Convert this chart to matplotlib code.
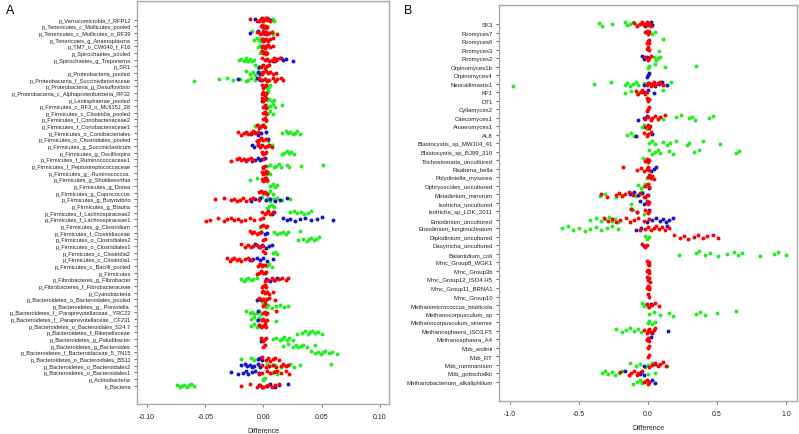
import matplotlib
matplotlib.use("Agg")
import matplotlib.pyplot as plt

plt.rcParams["font.family"] = ["Liberation Sans", "DejaVu Sans"]

# ---------------- Panel A data ----------------
A_labels = [
    "p_Verrucomicrobia_f_RFP12", "p_Tenericutes_c_Mollicutes_pooled", "p_Tenericutes_c_Mollicutes_o_RF39",
    "p_Tenericutes_g_Anaeroplasma", "p_TM7_o_CW040_f_F16", "p_Spirochaetes_pooled", "p_Spirochaetes_g_Treponema",
    "p_SR1", "p_Proteobacteria_pooled", "p_Proteobacteria_f_Succinivibrionaceae", "p_Proteobacteria_g_Desulfovibrio",
    "p_Proteobacteria_c_Alphaproteobacteria_RF32", "p_Lentisphaerae_pooled", "p_Firmicutes_c_RF3_o_ML615J_28",
    "p_Firmicutes_c_Clostridia_pooled", "p_Firmicutes_f_Coriobacteriaceae2", "p_Firmicutes_f_Coriobacteriaceae1",
    "p_Firmicutes_o_Coriobacteriales", "p_Firmicutes_o_Clostridiales_pooled", "p_Firmicutes_g_Succiniclasticum",
    "p_Firmicutes_g_Oscillospira", "p_Firmicutes_f_Ruminococcaceae1", "p_Firmicutes_f_Peptostreptococcaceae",
    "p_Firmicutes_g_.Ruminococcus.", "p_Firmicutes_g_Shuttleworthia", "p_Firmicutes_g_Dorea",
    "p_Firmicutes_g_Coprococcus", "p_Firmicutes_g_Butyrivibrio", "p_Firmicutes_g_Blautia",
    "p_Firmicutes_f_Lachnospiraceae2", "p_Firmicutes_f_Lachnospiraceae1", "p_Firmicutes_g_Clostridium",
    "p_Firmicutes_f_Clostridiaceae", "p_Firmicutes_o_Clostridiales2", "p_Firmicutes_o_Clostridiales1",
    "p_Firmicutes_c_Clostridia2", "p_Firmicutes_c_Clostridia1", "p_Firmicutes_c_Bacilli_pooled",
    "p_Firmicutes", "p_Fibrobacteres_g_Fibrobacter", "p_Fibrobacteres_f_Fibrobacteraceae", "p_Cyanobacteria",
    "p_Bacteroidetes_o_Bacteroidales_pooled", "p_Bacteroidetes_g_.Prevotella.",
    "p_Bacteroidetes_f_.Paraprevotellaceae._YRC22", "p_Bacteroidetes_f_.Paraprevotellaceae._CF231",
    "p_Bacteroidetes_o_Bacteroidales_S24.7", "p_Bacteroidetes_f_Rikenellaceae", "p_Bacteroidetes_g_Paludibacter",
    "p_Bacteroidetes_g_Bacteroides", "p_Bacteroidetes_f_Bacteroidaceae_5_7N15", "p_Bacteroidetes_o_Bacteroidales_BS11",
    "p_Bacteroidetes_o_Bacteroidales2", "p_Bacteroidetes_o_Bacteroidales1", "p_Actinobacteria", "k_Bacteria",
]

A_red = [
    [-0.012, -0.006, -0.003, -0.001, 0, 0.001, 0.002, 0.003, 0.004, 0.006],
    [-0.002, -0.001, 0, 0.001, 0.002, 0.003],
    [-0.006, -0.003, -0.001, 0, 0.001, 0.002, 0.003, 0.005, 0.007, 0.012],
    [-0.001, 0, 0.001, 0.002, 0.004, 0.006, 0.008],
    [-0.001, 0, 0.001, 0.002, 0.004, 0.006, 0.008],
    [-0.001, 0, 0.001, 0.002, 0.003],
    [-0.001, 0.001, 0.003, 0.005, 0.007, 0.009, 0.010, 0.012, 0.014],
    [-0.002, 0, 0.001, 0.003, 0.005],
    [-0.001, 0, 0.002, 0.004, 0.006, 0.008, 0.011],
    [-0.004, -0.001, 0.001, 0.003, 0.005, 0.008, 0.010, 0.012, 0.015, 0.017],
    [-0.001, 0, 0.001, 0.002],
    [-0.001, 0, 0.001, 0.002],
    [-0.001, 0, 0.001, 0.002],
    [0, 0.001, 0.002],
    [0, 0.001, 0.002],
    [0, 0.001, 0.002],
    [-0.006, -0.004, -0.002, 0, 0.001],
    [-0.022, -0.019, -0.017, -0.015, -0.013, -0.011, -0.009, -0.007, -0.005],
    [-0.006, -0.004, -0.002, 0, 0.002],
    [-0.005, -0.003, -0.001, 0.001, 0.003, 0.005, 0.007],
    [-0.001, 0, 0.001, 0.002],
    [-0.028, -0.023, -0.021, -0.019, -0.017, -0.015, -0.013, -0.011, -0.009, 0],
    [0, 0.001],
    [-0.001, 0, 0.001, 0.002, 0.003],
    [-0.001, 0, 0.001, 0.002, 0.003],
    [],
    [-0.004, -0.002, 0, 0.001, 0.003],
    [-0.042, -0.034, -0.028, -0.025, -0.023, -0.020, -0.018, -0.015, -0.012, -0.009, -0.004],
    [],
    [-0.001, 0.001, 0.002, 0.004, 0.006, 0.008],
    [-0.049, -0.046, -0.039, -0.034, -0.031, -0.028, -0.025, -0.022, -0.019, -0.016, -0.012, -0.008, -0.003, 0],
    [-0.002, 0, 0.002, 0.003],
    [-0.012, -0.010, -0.008, -0.006, -0.004, -0.002],
    [0, 0.001],
    [-0.019, -0.016, -0.013, -0.011, -0.009, -0.006, -0.003, 0],
    [0, 0.001],
    [-0.031, -0.029, -0.027, -0.025, -0.023, -0.021, -0.019, -0.016, -0.013, -0.010],
    [-0.005, -0.003, -0.001, 0.001],
    [-0.006, -0.004, -0.002, 0, 0.002],
    [0.001, 0.004, 0.007, 0.010, 0.013, 0.016, 0.019, 0.021],
    [-0.001, 0, 0.001, 0.002],
    [-0.001, 0, 0.001, 0.003, 0.005, 0.008],
    [-0.004, -0.002, 0, 0.001, 0.003, 0.005, 0.010],
    [0, 0.001],
    [0, 0.001, 0.002, 0.003, 0.011],
    [-0.001, 0, 0.001, 0.003],
    [-0.004, -0.002, 0, 0.001, 0.002],
    [],
    [-0.002, 0, 0.001, 0.002],
    [0, 0.001],
    [],
    [-0.001, 0.002, 0.004, 0.006, 0.008, 0.010, 0.013],
    [-0.001, 0.002, 0.005, 0.008, 0.011, 0.015, 0.017, 0.019, 0.021],
    [-0.004, -0.001, 0.003, 0.006, 0.009, 0.012, 0.015, 0.019, 0.022],
    [],
    [-0.019, -0.012, -0.006, -0.003, 0, 0.002, 0.004, 0.007, 0.010, 0.013],
]

A_green = [
    [0.008, 0.009, 0.006, -0.002],
    [0.001, 0.003],
    [-0.010, 0.005, 0.007, 0.008],
    [-0.008, -0.006, -0.004, -0.003, -0.002],
    [-0.005, -0.003, -0.001],
    [-0.003, -0.002],
    [-0.021, -0.019, -0.017, -0.016, -0.015, -0.013, -0.012, -0.010, -0.008],
    [-0.007, -0.005, -0.002],
    [-0.015, -0.012, -0.009, -0.007, -0.005, -0.003],
    [-0.060, -0.038, -0.031, -0.026, -0.020, -0.015, -0.013, -0.011, -0.007, -0.004],
    [0.003, 0.005, 0.006],
    [0.001, 0.003, 0.004],
    [0.003, 0.005, 0.007, 0.009],
    [0.002, 0.004, 0.006, 0.008, 0.010, 0.016],
    [0.002, 0.004, 0.006, 0.008],
    [0.001, 0.002],
    [-0.007, -0.005, -0.003],
    [0.016, 0.019, 0.021, 0.023, 0.025, 0.027, 0.029, 0.031],
    [0.002, 0.004],
    [0.005, 0.007],
    [0.016, 0.018, 0.020, 0.022, 0.024, 0.026],
    [],
    [0.003, 0.006, 0.009, 0.011, 0.013, 0.015, 0.020, 0.022, 0.032, 0.051],
    [0.002, 0.004, 0.006],
    [-0.012, -0.006, 0.003],
    [0.006, 0.008, 0.010, 0.012],
    [0.002, 0.004, 0.006, 0.008],
    [-0.004, -0.001, 0.002, 0.004, 0.006, 0.009, 0.012, 0.016, 0.023],
    [0.003, 0.005, 0.007, 0.009],
    [0.023, 0.026, 0.029, 0.032, 0.035, 0.038, 0.041],
    [],
    [-0.003],
    [0.009, 0.012, 0.014, 0.017, 0.019, 0.021, 0.031],
    [0.030, 0.034, 0.037, 0.039, 0.041, 0.043, 0.045, 0.048],
    [],
    [0.008, 0.010, 0.012],
    [],
    [0.003, 0.005, 0.007],
    [],
    [-0.019, -0.017, -0.015, -0.013, -0.011, -0.009, -0.006],
    [0.001],
    [0.002],
    [-0.001, 0.001],
    [0, 0.002, 0.004, 0.007, 0.011, 0.014, 0.018, 0.021],
    [-0.015, -0.012, -0.010, -0.008, -0.006, -0.004, -0.002],
    [-0.011, -0.008, -0.006, -0.004, 0.011],
    [-0.011, -0.008, -0.006, -0.003],
    [0.029, 0.033, 0.036, 0.038, 0.040, 0.042, 0.044, 0.047, 0.050],
    [0.008, 0.011, 0.014, 0.016, 0.018, 0.020, 0.022, 0.025],
    [0.017, 0.021, 0.025, 0.028, 0.030, 0.032, 0.034, 0.037, 0.044],
    [0.041, 0.044, 0.047, 0.049, 0.051, 0.053, 0.056, 0.059, 0.063],
    [-0.019, -0.011, -0.008, -0.005],
    [0.003, 0.006, 0.010, 0.015, 0.019, 0.023, 0.026, 0.031, 0.058],
    [0.007, 0.010, 0.012],
    [0, 0.001, 0],
    [-0.074, -0.072, -0.070, -0.068, -0.066, -0.064, -0.062, -0.060],
]

A_blue = [
    [-0.007, -0.004, 0.006, 0.003],
    [0],
    [-0.012, -0.005, 0.0],
    [0.0],
    [],
    [],
    [0.008, 0.011, 0.015, 0.017, 0.019, 0.025],
    [-0.004],
    [-0.005, -0.003],
    [-0.022, -0.006, -0.003, 0.001],
    [],
    [],
    [-0.001],
    [],
    [],
    [],
    [-0.001, 0],
    [-0.011, -0.008, -0.005, -0.002, 0.002],
    [-0.006, 0.004],
    [-0.010, -0.008, -0.005],
    [],
    [-0.010, -0.007, -0.005, -0.003, -0.001, 0.001],
    [0],
    [],
    [0.001],
    [],
    [],
    [-0.011, -0.007, -0.003, 0.002, 0.006, 0.010, 0.014, 0.020],
    [],
    [0.007, 0.009],
    [0.017, 0.020, 0.023, 0.027, 0.031, 0.036, 0.041, 0.046, 0.050, 0.060],
    [],
    [-0.002, 0.001, 0.003],
    [],
    [-0.007, -0.004, -0.001, 0.002, 0.005, 0.007],
    [],
    [-0.012, -0.009, -0.006, -0.003, 0, 0.003, 0.008],
    [0],
    [0.001],
    [0.002, 0.006, 0.009, 0.012],
    [],
    [],
    [-0.006, -0.003],
    [],
    [-0.005],
    [-0.005],
    [-0.004],
    [],
    [-0.002],
    [],
    [],
    [-0.005, -0.003, -0.001],
    [-0.019, -0.016, -0.014, -0.012, -0.010, -0.008, -0.005, -0.003],
    [-0.028, -0.022, -0.018, -0.015, -0.013, -0.010, -0.007, -0.004],
    [],
    [-0.004, -0.001, 0.003, 0.006, 0.010, 0.013, 0.021],
]

A_xticks = [-0.10, -0.05, 0.00, 0.05, 0.10]

# ---------------- Panel B data ----------------
B_labels = [
    "SK3", "Piromyces7", "Piromyces6", "Piromyces3", "Piromyces2", "Orpinomyces1b", "Orpinomyces4",
    "Neocallimastix1", "KF1", "DT1", "Cyllamyces2", "Caecomyces1", "Anaeromyces1", "AL8",
    "Blastocystis_sp_MWJ04_41", "Blastocystis_sp_BJ99_319", "Trichostomatia_uncultured", "Raabena_bella",
    "Polydiniella_mysorea", "Ophryoscolex_uncultured", "Metadinium_minorum", "Isotricha_uncultured",
    "Isotricha_sp_LDK_2011", "Entodinium_uncultured", "Entodinium_longinucleatum", "Diplodinium_uncultured",
    "Dasytricha_uncultured", "Balantidium_coli", "Mmc_Group8_WGK1", "Mmc_Group3b", "Mmc_Group12_ISO4.H5",
    "Mmc_Group11_BRNA1", "Mmc_Group10", "Methanimicrococcus_blatticola", "Methanocorpusculum_sp",
    "Methanocorpusculum_sinense", "Methanosphaera_ISO3.F5", "Methanosphaera_A4", "Mbb_wolinii", "Mbb_RT",
    "Mbb_ruminantium", "Mbb_gottschalkii", "Methanobacterium_alkaliphilium",
]

B_red = [
    [-0.10, -0.08, -0.06, -0.04, -0.03, -0.02, -0.01, 0.0, 0.01, 0.02],
    [-0.02, -0.01, 0, 0.01],
    [-0.005, 0, 0.005, 0.01],
    [-0.005, 0, 0.005],
    [-0.02, 0, 0.01, 0.02],
    [],
    [],
    [-0.01, 0.01, 0.02, 0.03, 0.04, 0.05, 0.07, 0.09, 0.11],
    [-0.09, -0.07, -0.05, -0.04, -0.02, -0.01],
    [-0.005, 0, 0.005],
    [-0.005, 0, 0.005],
    [-0.02, 0.0, 0.02, 0.03, 0.05, 0.07, 0.09, 0.12],
    [-0.02, 0, 0.01, 0.015],
    [-0.03, -0.01, 0, 0.02],
    [],
    [],
    [-0.02, -0.01, 0, 0.005],
    [-0.18, -0.08, -0.05, -0.03, -0.01, 0, 0.01],
    [0, 0.01, 0.02, 0.03, 0.045],
    [-0.02, 0, 0.01],
    [-0.34, -0.30, -0.23, -0.21, -0.19, -0.17, -0.14, -0.11, -0.06, -0.03, -0.01],
    [-0.01, 0, 0.01],
    [-0.12, -0.08, -0.02, 0, 0.01],
    [-0.32, -0.29, -0.26, -0.23, -0.20, -0.16, -0.13, -0.10, -0.07, -0.03, 0.01],
    [-0.06, -0.02, 0.0, 0.02, 0.04, 0.06, 0.08, 0.10, 0.12, 0.15],
    [0.185, 0.23, 0.26, 0.29, 0.33, 0.36, 0.40, 0.43, 0.47, 0.51],
    [-0.04, -0.02, -0.005],
    [],
    [-0.005, 0, 0.005, 0.01],
    [-0.005, 0, 0.005, 0.01],
    [-0.005, 0, 0.01, 0.015],
    [-0.005, 0, 0.005, 0.01],
    [0, 0.005],
    [-0.005, 0.01, 0.03, 0.05, 0.08],
    [],
    [],
    [-0.03, -0.01, 0.0, 0.01, 0.02, 0.04, 0.05],
    [-0.005, 0, 0.005],
    [0, 0.005],
    [0, 0.005],
    [0.01, 0.03, 0.05, 0.07, 0.09, 0.11, 0.13],
    [-0.20, -0.14, -0.12, -0.10, -0.08, -0.07, -0.04],
    [-0.03, -0.01, 0, 0.01],
]

B_green = [
    [-0.355, -0.33, -0.26, -0.17, -0.15, -0.13, -0.11, -0.08],
    [0.01, 0.03, 0.05],
    [0.11],
    [0.08],
    [0.04, 0.06, 0.07, 0.09],
    [0, 0.01, 0.05, 0.12, 0.35],
    [],
    [-0.976, -0.39, -0.27, -0.17, -0.15, -0.13, -0.11, -0.09, -0.07, -0.03, 0.17],
    [-0.17, -0.12, -0.08, -0.06, 0.11],
    [],
    [],
    [0.11, 0.20, 0.24, 0.30, 0.32, 0.34, 0.44, 0.47],
    [-0.04, -0.03, -0.01],
    [-0.155, -0.12, -0.10],
    [0.01, 0.03, 0.05, 0.11, 0.14, 0.16, 0.20, 0.28, 0.30, 0.40, 0.52],
    [0.01, 0.03, 0.05, 0.07, 0.09, 0.15, 0.18, 0.33, 0.37, 0.64, 0.66],
    [-0.035],
    [],
    [-0.005],
    [-0.07, -0.05, -0.03, -0.02],
    [-0.35, -0.31, -0.23, -0.19, -0.12, -0.09, -0.06, -0.04],
    [-0.12],
    [-0.11, -0.03],
    [-0.42, -0.38, -0.34, -0.31, -0.28, -0.26, -0.24, -0.22],
    [-0.62, -0.58, -0.54, -0.50, -0.46, -0.42, -0.38, -0.34, -0.30, -0.26, -0.22],
    [-0.02, -0.005, 0.01],
    [-0.04],
    [0.225, 0.35, 0.37, 0.41, 0.45, 0.51, 0.57, 0.62, 0.65, 0.68, 0.81, 0.91, 0.94, 1.0],
    [],
    [],
    [0],
    [],
    [],
    [-0.045, -0.03, -0.015, 0],
    [0.01, 0.04, 0.09, 0.15, 0.18, 0.35, 0.38, 0.41, 0.50, 0.64],
    [0, 0.01, 0.03, 0.05],
    [-0.23, -0.19, -0.16, -0.13, -0.10, -0.07, -0.05],
    [-0.01],
    [],
    [],
    [-0.13, -0.09, -0.06, -0.02, 0.0, 0.03, 0.135],
    [-0.33, -0.31, -0.29, -0.26, -0.24, -0.21, -0.19, 0.0, 0.05],
    [-0.11, -0.08, -0.06, -0.04, -0.02],
]

B_blue = [
    [-0.04, -0.02, 0.0, 0.02, 0.03],
    [-0.01],
    [],
    [],
    [-0.04, -0.03, -0.01],
    [],
    [-0.005, 0, 0.005],
    [-0.03, 0.0, 0.05, 0.08, 0.10, 0.135],
    [-0.03, 0.0, 0.04],
    [0],
    [],
    [-0.075, -0.03, -0.01],
    [],
    [-0.09, 0.03],
    [],
    [],
    [],
    [0.02, 0.04, 0.055],
    [],
    [0.005],
    [-0.13, -0.10, -0.07, -0.04, -0.02, 0.0],
    [-0.06, -0.03, -0.01],
    [-0.12, -0.08, 0.01],
    [-0.01, 0.03, 0.06, 0.09, 0.11, 0.13, 0.15, 0.18],
    [-0.09, -0.05, 0.135],
    [],
    [-0.03],
    [],
    [],
    [],
    [],
    [],
    [],
    [0.02],
    [],
    [],
    [0.03, 0.147],
    [0.02],
    [],
    [],
    [-0.03, 0.05],
    [-0.17, -0.06, -0.05, -0.03],
    [0.01, 0.03, 0.05],
]

B_xticks = [-1.0, -0.5, 0.0, 0.5, 1.0]

# ---------------- drawing ----------------
RED = "#ff0000"
GREEN = "#22ee22"
BLUE = "#1414c8"
SPINE = "#a8a8a8"


def jitter(k, width):
    return (((k * 0.6180339887) + 0.31) % 1.0 - 0.5) * 2 * width


def strip(ax, series, color, width, size):
    xs, ys = [], []
    k = 0
    for i, vals in enumerate(series):
        for v in vals:
            xs.append(v)
            ys.append(i + jitter(k, width))
            k += 1
    ax.scatter(xs, ys, s=size, c=color, linewidths=0, zorder=3)


def style(ax, labels, xticks, xlim, ylab_size, fmt):
    ax.set_yticks(range(len(labels)))
    ax.set_yticklabels(labels, fontsize=ylab_size)
    ax.set_xticks(xticks)
    ax.set_xticklabels([fmt.format(t) for t in xticks], fontsize=5)
    ax.set_xlim(*xlim)
    for sp in ax.spines.values():
        sp.set_color(SPINE)
        sp.set_linewidth(1.0)
    ax.tick_params(axis="both", colors="#555555", length=2.5, width=0.6, pad=2)
    ax.tick_params(axis="y", labelcolor="#222222")
    ax.tick_params(axis="x", labelcolor="#222222", pad=4)
    ax.set_xlabel("Difference", fontsize=5, color="#222222", labelpad=5)


fig = plt.figure(figsize=(7.99, 4.35), dpi=100)
axA = fig.add_axes([0.1715, 0.069, 0.3154, 0.9264])
axB = fig.add_axes([0.6245, 0.0759, 0.3730, 0.9110])

for series, col in ((A_green, GREEN), (A_blue, BLUE), (A_red, RED)):
    strip(axA, series, col, 0.28, 8)
for series, col in ((B_green, GREEN), (B_blue, BLUE), (B_red, RED)):
    strip(axB, series, col, 0.3, 8)

style(axA, A_labels, A_xticks, (-0.1085, 0.1077), 4.1, "{:.2f}")
axA.set_ylim(len(A_labels) - 1 + 2.75, -2.8)
style(axB, B_labels, B_xticks, (-1.08, 1.08), 4.3, "{:.1f}")
axB.set_ylim(len(B_labels) - 1 + 2.27, -2.27)

fig.text(0.008, 0.975, "A", fontsize=9, va="center", ha="left")
fig.text(0.506, 0.975, "B", fontsize=9, va="center", ha="left")

fig.savefig("out.png", dpi=100)
